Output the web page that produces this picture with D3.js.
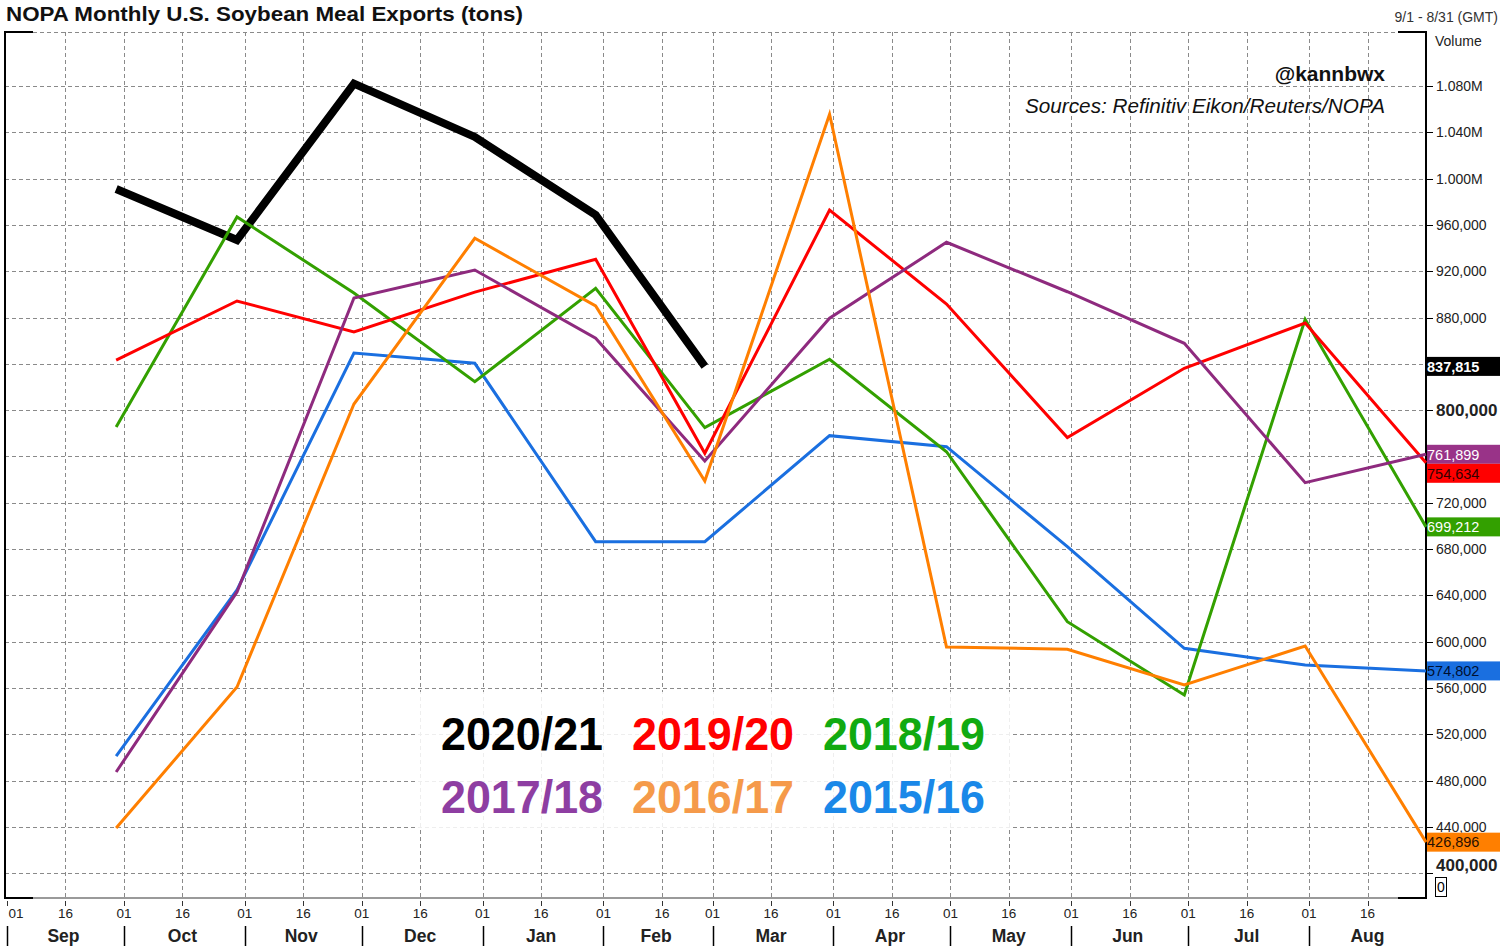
<!DOCTYPE html>
<html><head><meta charset="utf-8">
<script src="https://cdn.jsdelivr.net/npm/d3@7"></script>
<style>
body{margin:0;background:#fff}
svg{display:block;font-family:"Liberation Sans",Arial,sans-serif}
</style>
</head><body>
<svg id="c" width="1500" height="946"></svg>
<script>
// ---------------- data ----------------
const months = ["Sep","Oct","Nov","Dec","Jan","Feb","Mar","Apr","May","Jun","Jul","Aug"];
const pointDates = ["2020-09-29","2020-10-30","2020-11-29","2020-12-30","2021-01-30","2021-02-27",
                    "2021-03-31","2021-04-30","2021-05-31","2021-06-30","2021-07-31","2021-08-31"];
const seasons = ["2020/21","2019/20","2018/19","2017/18","2016/17","2015/16"];
const v2020_21 = [991000, 947000, 1082000, 1036000, 968600, 837815];
const v2019_20 = [843300, 894300, 867500, 902000, 930300, 762800, 972900, 891700, 776400, 836200, 875300, 754634];
const v2018_19 = [785500, 966900, 901200, 824600, 905300, 784900, 844000, 764100, 617300, 554000, 878500, 699212];
const v2017_18 = [487500, 643000, 896900, 921100, 862100, 756100, 879400, 945000, 902300, 857800, 737400, 761899];
const v2016_17 = [439100, 560900, 805300, 948500, 890000, 738800, 1055600, 595500, 593500, 562600, 596300, 426896];
const v2015_16 = [501300, 644700, 849400, 840500, 686400, 686400, 778000, 768500, 682100, 594300, 579900, 574802];
const yTickValues = [1080000,1040000,1000000,960000,920000,880000,840000,800000,760000,720000,680000,640000,600000,560000,520000,480000,440000,400000];
const yTickLabels = ["1.080M","1.040M","1.000M","960,000","920,000","880,000","","800,000","","720,000","680,000","640,000","600,000","560,000","520,000","480,000","440,000","400,000"];
const dayTicks = [1, 16];

// ---------------- styles ----------------
const lineColors = {"2020/21":"#000000","2019/20":"#ff0000","2018/19":"#33a000","2017/18":"#8e2a7e","2016/17":"#ff7f00","2015/16":"#1a6fe0"};
const legendColors = {"2020/21":"#000000","2019/20":"#ff0000","2018/19":"#11aa11","2017/18":"#8e3ea2","2016/17":"#f59a4a","2015/16":"#1a88e8"};
const tagColors = {"2020/21":["#000000","#ffffff"],"2019/20":["#ff0000","#330000"],"2018/19":["#33a000","#ffffff"],
                   "2017/18":["#993388","#ffffff"],"2016/17":["#ff7f00","#2a1000"],"2015/16":["#1a6fe0","#001133"]};
const seriesValues = {"2020/21":v2020_21,"2019/20":v2019_20,"2018/19":v2018_19,"2017/18":v2017_18,"2016/17":v2016_17,"2015/16":v2015_16};
const drawOrder = ["2020/21","2015/16","2018/19","2019/20","2017/18","2016/17"];

const L = 5, R = 1426, T = 32, B = 898;
const svg = d3.select("#c");
const parse = d3.utcParse("%Y-%m-%d");
const x = d3.scaleUtc().domain([Date.UTC(2020,8,1), Date.UTC(2021,7,31)]).range([7, R]);
const y = d3.scaleLinear().domain([400000, 1080000]).range([873.3, 86]);

// ---------------- grid ----------------
const grid = svg.append("g").attr("stroke","#8a8a8a").attr("stroke-width",1).attr("stroke-dasharray","4,3");
grid.selectAll("line.h").data(yTickValues).join("line")
  .attr("x1", L).attr("x2", R).attr("y1", d => Math.round(y(d))+0.5).attr("y2", d => Math.round(y(d))+0.5);
grid.append("line").attr("x1", L).attr("x2", R).attr("y1", T+0.5).attr("y2", T+0.5);
const tickDates = [];
for (let m = 0; m < 12; m++) for (const dd of dayTicks) tickDates.push(new Date(Date.UTC(2020, 8+m, dd)));
grid.selectAll("line.v").data(tickDates.filter(d => x(d) > 12)).join("line")
  .attr("x1", d => Math.round(x(d))+0.5).attr("x2", d => Math.round(x(d))+0.5).attr("y1", T).attr("y2", B);

// ---------------- frame ----------------
svg.append("line").attr("x1", L).attr("x2", R).attr("y1", B).attr("y2", B).attr("stroke","#9a9a9a").attr("stroke-width",2);
const frame = svg.append("g").attr("stroke","#000").attr("stroke-width",2).attr("fill","none");
frame.append("line").attr("x1", L).attr("x2", L).attr("y1", T).attr("y2", B);
frame.append("line").attr("x1", R).attr("x2", R).attr("y1", T).attr("y2", B);
frame.append("line").attr("x1", L-1).attr("x2", L+28).attr("y1", T).attr("y2", T);
frame.append("line").attr("x1", R-28).attr("x2", R+1).attr("y1", T).attr("y2", T);
frame.append("line").attr("x1", L-1).attr("x2", L+28).attr("y1", B).attr("y2", B);
frame.append("line").attr("x1", R-28).attr("x2", R+1).attr("y1", B).attr("y2", B);

// ---------------- lines ----------------
const dates = pointDates.map(parse);
const line = d3.line().x((d,i) => x(dates[i])).y(d => y(d));
svg.append("g").selectAll("path").data(drawOrder).join("path")
  .attr("d", s => line(seriesValues[s]))
  .attr("fill","none")
  .attr("stroke", s => lineColors[s])
  .attr("stroke-width", s => s === "2020/21" ? 8 : 3)
  .attr("stroke-linejoin","miter")
  .attr("stroke-linecap","butt");

// ---------------- right axis ----------------
const ax = svg.append("g");
ax.selectAll("line").data(yTickValues).join("line")
  .attr("x1", R).attr("x2", R+7).attr("y1", d => Math.round(y(d))+0.5).attr("y2", d => Math.round(y(d))+0.5)
  .attr("stroke","#000").attr("stroke-width",1);
ax.selectAll("text").data(yTickValues.map((v,i)=>({v, t:yTickLabels[i]})).filter(d => d.t)).join("text")
  .attr("x", 1436)
  .attr("y", d => y(d.v) + (d.v === 400000 ? -8 : 0))
  .attr("dy", "0.36em")
  .attr("font-size", d => (d.v === 800000 || d.v === 400000) ? 17 : 14)
  .attr("font-weight", d => (d.v === 800000 || d.v === 400000) ? "bold" : "normal")
  .attr("fill", "#222")
  .text(d => d.t);
svg.append("text").attr("x", 1435).attr("y", 46).attr("font-size", 14).attr("fill","#222").text("Volume");
svg.append("text").attr("x", 1498).attr("y", 22).attr("font-size", 14).attr("fill","#333").attr("text-anchor","end").text("9/1 - 8/31 (GMT)");
svg.append("rect").attr("x", 1435.5).attr("y", 877.5).attr("width", 11).attr("height", 19).attr("fill","#fff").attr("stroke","#000");
svg.append("text").attr("x", 1441).attr("y", 892).attr("font-size", 14).attr("text-anchor","middle").attr("fill","#000").text("0");

// ---------------- value tags ----------------
const tagH = 19;
const tags = seasons.map(s => { const a = seriesValues[s]; return {s, v: a[a.length-1], cy: y(a[a.length-1])}; })
  .sort((a,b) => a.cy - b.cy);
for (let i = 1; i < tags.length; i++) {
  if (tags[i].cy - tags[i-1].cy < tagH) tags[i].cy = tags[i-1].cy + tagH;
}
const tg = svg.append("g").selectAll("g").data(tags).join("g");
tg.append("rect").attr("x", R+1).attr("y", d => d.cy - tagH/2).attr("width", 1500-R-1).attr("height", tagH)
  .attr("fill", d => tagColors[d.s][0]);
tg.append("text").attr("x", R+1).attr("y", d => d.cy).attr("dy","0.36em").attr("font-size", 14.5)
  .attr("font-weight", d => d.s === "2020/21" ? "bold" : "normal")
  .attr("fill", d => tagColors[d.s][1]).text(d => d3.format(",")(d.v));

// ---------------- bottom axis ----------------
const bx = svg.append("g");
bx.selectAll("line.t").data(tickDates).join("line")
  .attr("x1", d => Math.round(x(d))+0.5).attr("x2", d => Math.round(x(d))+0.5).attr("y1", 901).attr("y2", 906)
  .attr("stroke","#333");
bx.selectAll("text.d").data(tickDates).join("text")
  .attr("x", d => Math.max(16, x(d))).attr("y", 918).attr("text-anchor","middle")
  .attr("font-size", 13.5).attr("fill","#222").text(d => d3.utcFormat("%d")(d));
const monthStarts = months.map((m,i) => new Date(Date.UTC(2020, 8+i, 1)));
bx.selectAll("line.m").data(monthStarts).join("line")
  .attr("x1", d => Math.round(x(d))+0.5).attr("x2", d => Math.round(x(d))+0.5).attr("y1", 926).attr("y2", 946)
  .attr("stroke","#000").attr("stroke-width",1.5);
bx.selectAll("text.m").data(months).join("text")
  .attr("x", (m,i) => (x(monthStarts[i]) + x(new Date(Date.UTC(2020, 9+i, 1))))/2 - 2)
  .attr("y", 942).attr("text-anchor","middle").attr("font-size", 17.5).attr("font-weight","bold").attr("fill","#222")
  .text(m => m);

// ---------------- titles ----------------
svg.append("text").attr("x", 6).attr("y", 21).attr("font-size", 20.5).attr("font-weight","bold").attr("fill","#111")
  .attr("textLength", 517).attr("lengthAdjust","spacingAndGlyphs")
  .text("NOPA Monthly U.S. Soybean Meal Exports (tons)");
svg.append("text").attr("x", 1385).attr("y", 81).attr("font-size", 21).attr("font-weight","bold").attr("fill","#111")
  .attr("text-anchor","end").text("@kannbwx");
svg.append("text").attr("x", 1385).attr("y", 113).attr("font-size", 19.5).attr("font-style","italic").attr("fill","#111")
  .attr("text-anchor","end").attr("textLength", 360).attr("lengthAdjust","spacingAndGlyphs")
  .text("Sources: Refinitiv Eikon/Reuters/NOPA");

// ---------------- legend ----------------
svg.append("rect").attr("x", 418).attr("y", 692).attr("width", 592).attr("height", 136)
  .attr("fill","#fff").attr("fill-opacity",0.85);
svg.append("g").selectAll("text").data(seasons).join("text")
  .attr("x", (s,i) => [441, 632, 823][i % 3])
  .attr("y", (s,i) => i < 3 ? 750 : 813)
  .attr("font-size", 46).attr("font-weight","bold")
  .attr("textLength", 162).attr("lengthAdjust","spacingAndGlyphs")
  .attr("fill", s => legendColors[s]).text(s => s);
</script>
</body></html>
